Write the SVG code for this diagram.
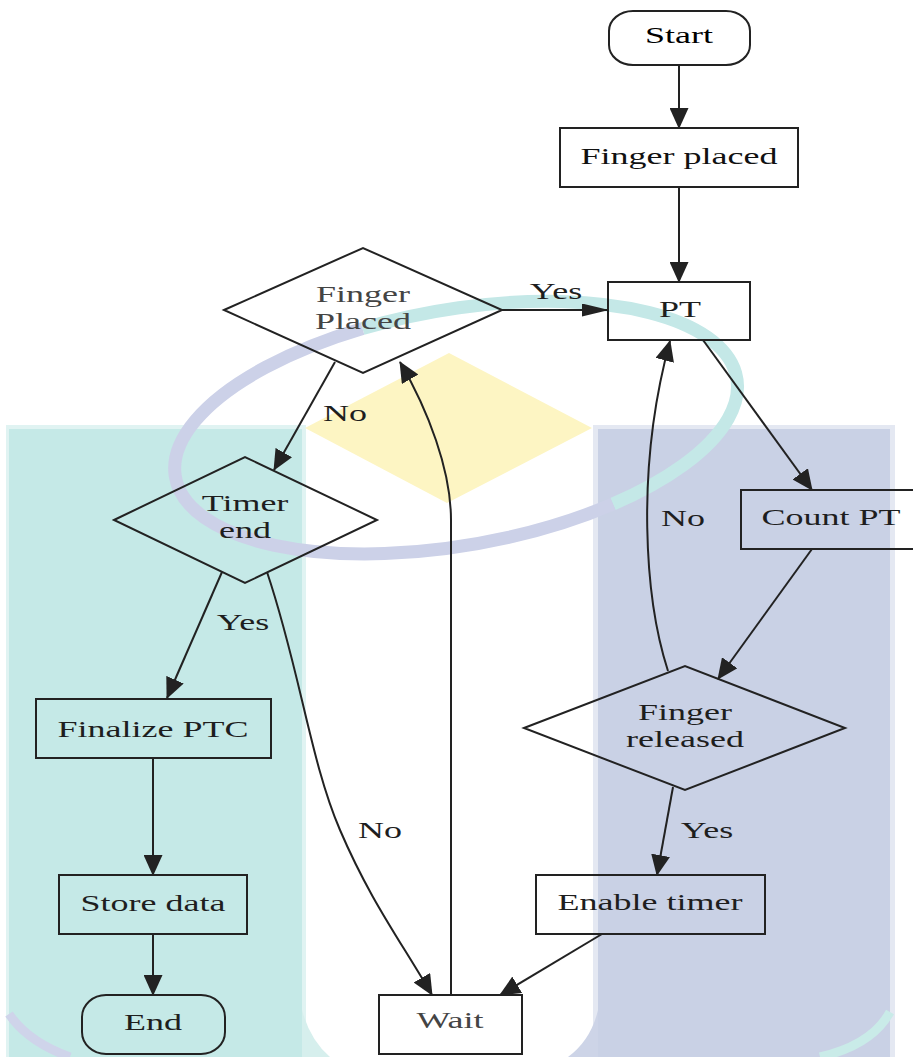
<svg xmlns="http://www.w3.org/2000/svg" width="913" height="1057" viewBox="0 0 913 1057">
<defs>
<style>
.box{fill:none;stroke:#222;stroke-width:2}
.edge{fill:none;stroke:#222;stroke-width:2}
.t{font-family:"Liberation Serif","Times New Roman",serif;font-size:24px;fill:#1e1e1e;text-anchor:middle}
</style>
<marker id="ah" markerUnits="userSpaceOnUse" markerWidth="21" markerHeight="19" refX="20" refY="9.5" orient="auto"><path d="M0,0 L21,9.5 L0,19 Z" fill="#222"/></marker>
<marker id="ahh" markerUnits="userSpaceOnUse" markerWidth="27" markerHeight="13" refX="26" refY="6.5" orient="auto"><path d="M0,0 L27,6.5 L0,13 Z" fill="#222"/></marker>
</defs>
<rect width="913" height="1057" fill="#ffffff"/>
<g id="watermark">
<rect x="6" y="425" width="300" height="632" fill="#e0f3f2"/>
<rect x="9" y="429" width="293" height="628" fill="#c5e9e7"/>
<path d="M302,1010 Q310,1040 330,1057 L302,1057 Z" fill="#d6efed"/>
<path d="M9,1014 Q28,1042 70,1057" fill="none" stroke="#cfd4ea" stroke-width="9"/>
<rect x="593" y="425" width="302" height="632" fill="#e4e8f2"/>
<rect x="598" y="429" width="292" height="628" fill="#c9d1e5"/>
<path d="M598,1010 Q591,1040 568,1057 L598,1057 Z" fill="#cdd4e7"/>
<path d="M890,1012 Q872,1045 820,1057" fill="none" stroke="#c9ebe8" stroke-width="9"/>
<polygon points="449,353 592,428 447,503 305,428" fill="#fdf5c3"/>
<path d="M362.5,328.5 A285,118 -10 0 1 613,504" fill="none" stroke="#c4e8e7" stroke-width="13"/>
<path d="M613,504 A285,118 -10 1 1 362.5,328.5" fill="none" stroke="#ccd1e8" stroke-width="13"/>
</g>
<g id="connectors">
<path class="edge" d="M679,65 L679,128" marker-end="url(#ah)"/>
<path class="edge" d="M679,187 L679,282" marker-end="url(#ah)"/>
<path class="edge" d="M502,310 L608,310" marker-end="url(#ahh)"/>
<path class="edge" d="M335,362 L274,470" marker-end="url(#ah)"/>
<path class="edge" d="M222,572 L167,698" marker-end="url(#ah)"/>
<path class="edge" d="M153,758 L153,875" marker-end="url(#ah)"/>
<path class="edge" d="M153,934 L153,995" marker-end="url(#ah)"/>
<path class="edge" d="M267,572 C300,670 310,760 340,830 C370,900 400,940 432,995" marker-end="url(#ah)"/>
<path class="edge" d="M451,995 L451,520 C451,470 428,410 400,362" marker-end="url(#ah)"/>
<path class="edge" d="M703,340 L812,490" marker-end="url(#ah)"/>
<path class="edge" d="M812,549 L718,679" marker-end="url(#ah)"/>
<path class="edge" d="M668,671 C645,600 635,470 670,341" marker-end="url(#ah)"/>
<path class="edge" d="M673,787 L657,875" marker-end="url(#ah)"/>
<path class="edge" d="M602,934 L500,995" marker-end="url(#ah)"/>
<text class="t" transform="translate(556,299) scale(1.5,1)">Yes</text>
<text class="t" transform="translate(345,421) scale(1.5,1)">No</text>
<text class="t" transform="translate(243,630) scale(1.5,1)">Yes</text>
<text class="t" transform="translate(380,838) scale(1.5,1)">No</text>
<text class="t" transform="translate(683,526) scale(1.5,1)">No</text>
<text class="t" transform="translate(707,838) scale(1.5,1)">Yes</text>
</g>
<g id="start">
<rect class="box" x="609" y="11" width="141" height="54" rx="24" ry="20"/>
<text class="t" transform="translate(679,43) scale(1.5,1)" style="fill:#000">Start</text>
</g>
<g id="finger-placed">
<rect class="box" x="560" y="128" width="238" height="59"/>
<text class="t" transform="translate(679,164) scale(1.5,1)" style="fill:#111">Finger placed</text>
</g>
<g id="pt">
<rect class="box" x="608" y="282" width="142" height="58"/>
<text class="t" transform="translate(680,317) scale(1.5,1)">PT</text>
</g>
<g id="finger-placed-decision">
<polygon class="box" points="224,310 363,248 502,310 363,373"/>
<text class="t" transform="translate(363,302) scale(1.5,1)" style="fill:#444">Finger</text>
<text class="t" transform="translate(363,329) scale(1.5,1)" style="fill:#444">Placed</text>
</g>
<g id="timer-end">
<polygon class="box" points="114,520 245,457 377,520 245,583"/>
<text class="t" transform="translate(245,511) scale(1.5,1)">Timer</text>
<text class="t" transform="translate(245,538) scale(1.5,1)">end</text>
</g>
<g id="finalize-ptc">
<rect class="box" x="36" y="699" width="235" height="59"/>
<text class="t" transform="translate(153,737) scale(1.5,1)">Finalize PTC</text>
</g>
<g id="store-data">
<rect class="box" x="59" y="875" width="188" height="59"/>
<text class="t" transform="translate(153,911) scale(1.5,1)">Store data</text>
</g>
<g id="end">
<rect class="box" x="82" y="995" width="143" height="59" rx="24" ry="22"/>
<text class="t" transform="translate(153,1030) scale(1.5,1)">End</text>
</g>
<g id="wait">
<rect class="box" x="379" y="995" width="143" height="59"/>
<text class="t" transform="translate(450,1028) scale(1.5,1)" style="fill:#444">Wait</text>
</g>
<g id="count-pt">
<rect class="box" x="741" y="490" width="182" height="59"/>
<text class="t" transform="translate(831,525) scale(1.5,1)">Count PT</text>
</g>
<g id="finger-released">
<polygon class="box" points="524,728 685,666 845,728 685,790"/>
<text class="t" transform="translate(685,720) scale(1.5,1)">Finger</text>
<text class="t" transform="translate(685,747) scale(1.5,1)">released</text>
</g>
<g id="enable-timer">
<rect class="box" x="536" y="875" width="229" height="59"/>
<text class="t" transform="translate(650,910) scale(1.5,1)">Enable timer</text>
</g>
</svg>
